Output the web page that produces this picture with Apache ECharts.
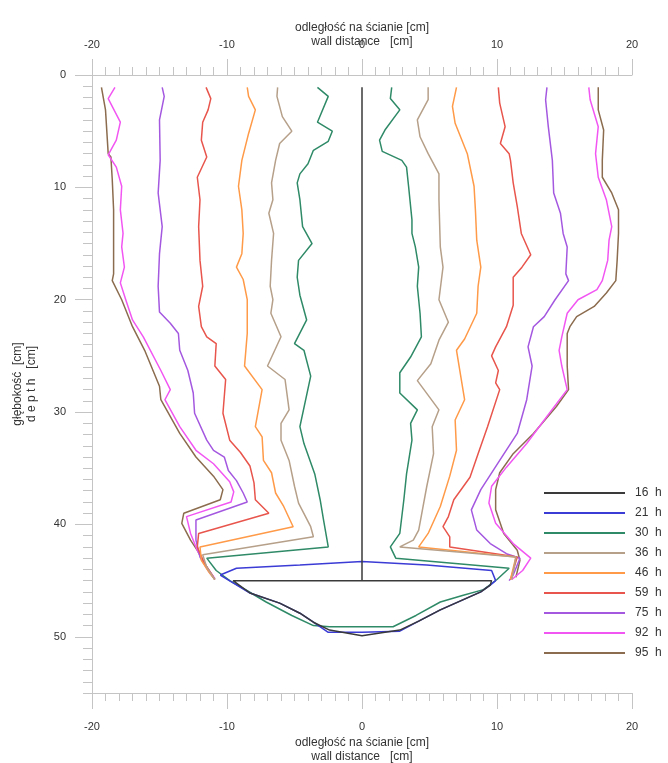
<!DOCTYPE html>
<html>
<head>
<meta charset="utf-8">
<script src="https://cdn.jsdelivr.net/npm/echarts@6/dist/echarts.min.js"></script>
<style>
html, body { margin: 0; padding: 0; background: #ffffff; }
#chart { width: 668px; height: 763px; }
</style>
</head>
<body>
<div id="chart"></div>
<script>
const FONT = '"Liberation Sans", Arial, sans-serif';

// legend names and colours (hours)
const timeLabels = ['16  h', '21  h', '30  h', '36  h', '46  h', '59  h', '75  h', '92  h', '95  h'];
const timeColors = ['#3a3a3a', '#3b3bd6', '#2f8a68', '#b6a08a', '#ff9a48', '#e8554c', '#a458e0', '#f256f2', '#8c6c4e'];

// tick values
const xTicks = [-20, -10, 0, 10, 20];
const yTicks = [0, 10, 20, 30, 40, 50];

// profiles: [wall distance cm, depth cm]
const profile16 = [[0, 1.1], [0, 45], [-9.55, 45], [-8.3, 46.1], [-6.1, 47.0], [-4.6, 47.9], [-3.6, 48.7], [-2.4, 49.4], [0, 49.9],
    [2.8, 49.4], [4.2, 48.6], [5.8, 47.6], [7.3, 46.8], [8.8, 46.0], [9.5, 45.4], [9.6, 45.0], [0, 45]];

const profile21 = [[-10.5, 44.5], [-9.3, 43.9], [-4.6, 43.6], [0, 43.3], [4.8, 43.6], [9.6, 44.1], [9.9, 45.0], [9.5, 45.4],
    [8.8, 46.0], [7.3, 46.8], [5.8, 47.6], [4.2, 48.6], [2.8, 49.5], [0, 49.6], [-2.5, 49.6], [-3.6, 48.7], [-4.6, 47.9],
    [-6.1, 47.0], [-8.3, 46.1], [-9.55, 45.2], [-10.5, 44.5]];

const left30 = [[-3.3, 1.1], [-2.5, 1.9], [-3.3, 4.2], [-2.2, 5.0], [-2.5, 5.9], [-3.6, 6.7], [-4.0, 7.9], [-4.6, 8.8], [-4.8, 9.6],
    [-4.6, 11.1], [-4.4, 13.5], [-3.7, 15.0], [-4.7, 16.5], [-4.8, 18.0], [-4.6, 19.6], [-4.1, 21.8], [-5.0, 23.9], [-4.3, 24.5],
    [-3.8, 26.8], [-4.6, 31.3], [-4.3, 32.8], [-3.5, 35.5], [-3.1, 37.8], [-2.85, 39.6], [-2.5, 42.0], [-11.5, 43.0], [-10.8, 44.1]];
const bowl30 = [[-9.8, 45.0], [-8.5, 45.9], [-7.1, 46.9], [-5.2, 48.1], [-3.6, 49.0], [-2.4, 49.1], [2.3, 49.1], [4.0, 48.1],
    [5.8, 46.9], [7.5, 46.3], [9.0, 45.8], [10.0, 44.9]];
const right30 = [[2.2, 1.1], [2.1, 2.1], [2.8, 3.1], [1.7, 4.9], [1.3, 5.8], [1.5, 6.8], [2.95, 7.6], [3.3, 8.2], [3.45, 9.9],
    [3.7, 12.9], [3.7, 14.1], [3.95, 15.3], [4.2, 17.1], [4.1, 18.8], [4.3, 21.2], [4.4, 23.3], [3.6, 25.1], [2.8, 26.5],
    [2.8, 28.3], [4.1, 29.8], [3.6, 31.0], [3.7, 32.5], [3.3, 35.5], [3.1, 37.8], [2.8, 40.8], [2.1, 42.0], [2.5, 43.0], [10.9, 43.9]];

const left36 = [[-6.25, 1.1], [-6.3, 1.9], [-5.9, 3.7], [-5.2, 5.0], [-6.1, 6.1], [-6.4, 7.6], [-6.7, 9.6], [-6.6, 11.1], [-6.9, 12.3],
    [-6.55, 14.1], [-6.7, 16.5], [-6.8, 18.8], [-6.6, 20.0], [-6.75, 21.2], [-6.0, 23.3], [-7.0, 25.9], [-5.7, 27.1], [-5.4, 29.8],
    [-6.0, 31.0], [-6.0, 32.5], [-5.4, 34.3], [-5.0, 36.6], [-4.7, 38.1], [-3.8, 40.2], [-3.6, 41.1], [-11.8, 42.7], [-11.5, 43.8], [-10.9, 44.9]];
const right36 = [[4.9, 1.1], [4.9, 2.2], [4.1, 4.0], [4.3, 5.5], [4.9, 7.0], [5.7, 8.8], [5.7, 11.1], [5.8, 15.3], [6.0, 17.1],
    [5.7, 20.0], [6.4, 22.0], [5.7, 23.6], [5.1, 25.7], [4.1, 27.2], [5.7, 29.8], [5.2, 31.3], [5.3, 33.7], [4.8, 36.6],
    [4.2, 40.5], [3.8, 41.4], [2.8, 42.0], [11.4, 42.9], [11.1, 44.9]];

const left46 = [[-8.5, 1.1], [-8.4, 1.9], [-7.9, 3.1], [-8.4, 5.2], [-8.9, 7.6], [-9.15, 9.9], [-8.9, 12.0], [-8.8, 14.1], [-8.9, 15.9],
    [-9.3, 17.1], [-8.8, 18.2], [-8.5, 20.0], [-8.5, 23.0], [-8.7, 25.9], [-7.4, 28.0], [-7.9, 31.3], [-7.4, 32.2], [-7.3, 34.3],
    [-6.7, 35.4], [-6.4, 37.2], [-5.8, 38.4], [-5.1, 40.2], [-12.0, 42.0], [-11.9, 43.2], [-11.3, 44.3], [-10.9, 44.9]];
const right46 = [[7.0, 1.1], [6.7, 2.8], [6.9, 4.3], [7.8, 7.0], [8.3, 9.9], [8.4, 12.0], [8.5, 14.7], [8.8, 17.1], [8.6, 18.8],
    [8.5, 21.2], [7.6, 23.5], [7.0, 24.5], [7.6, 28.9], [6.9, 30.7], [7.0, 33.4], [6.5, 35.7], [5.8, 38.4], [4.9, 40.8],
    [4.2, 42.0], [11.4, 42.9], [11.0, 44.9]];

const left59 = [[-11.55, 1.1], [-11.2, 2.1], [-11.4, 3.1], [-11.8, 4.2], [-11.9, 5.8], [-11.5, 7.3], [-12.2, 9.1], [-12.0, 11.1],
    [-12.1, 13.5], [-12.0, 16.5], [-11.8, 18.8], [-12.1, 20.6], [-11.9, 22.4], [-11.5, 23.3], [-10.8, 23.9], [-10.9, 25.9],
    [-10.1, 27.1], [-10.3, 30.1], [-9.8, 32.5], [-9.0, 33.6], [-8.3, 34.8], [-8.0, 36.3], [-7.9, 37.8], [-6.9, 39.0],
    [-12.1, 40.8], [-12.2, 42.0], [-11.7, 43.4], [-11.0, 44.7]];
const right59 = [[10.1, 1.1], [10.2, 2.5], [10.6, 4.6], [10.25, 6.1], [10.9, 7.0], [11.0, 7.6], [11.2, 9.6], [11.5, 11.7],
    [11.8, 14.1], [12.5, 16.0], [11.85, 17.1], [11.2, 18.0], [11.2, 19.4], [11.2, 20.5], [10.7, 22.4], [9.9, 24.2], [9.6, 25.0],
    [10.1, 26.3], [9.9, 27.4], [10.2, 28.0], [9.3, 31.3], [8.6, 33.7], [8.0, 35.8], [6.8, 37.8], [6.4, 39.3], [6.0, 40.2],
    [6.5, 41.1], [6.5, 42.0], [11.5, 42.9], [11.0, 44.9]];

const left75 = [[-14.8, 1.1], [-14.65, 1.9], [-15.0, 4.0], [-14.95, 7.6], [-15.1, 10.5], [-14.8, 13.5], [-15.0, 15.9], [-15.1, 18.8],
    [-15.0, 21.1], [-14.2, 22.1], [-13.6, 23.0], [-13.5, 24.5], [-12.9, 26.3], [-12.5, 28.3], [-12.4, 30.1], [-11.5, 32.5],
    [-11.0, 33.4], [-10.2, 34.0], [-9.9, 35.2], [-9.3, 36.1], [-8.8, 37.2], [-8.5, 38.0], [-12.3, 39.6], [-12.3, 41.4],
    [-12.0, 42.9], [-11.4, 44.1], [-10.9, 44.9]];
const right75 = [[13.7, 1.1], [13.6, 2.2], [13.8, 4.6], [14.1, 7.6], [14.2, 10.5], [14.7, 12.3], [14.9, 14.1], [15.2, 15.3],
    [15.1, 17.7], [15.3, 18.3], [14.3, 20.0], [13.5, 21.5], [12.7, 22.4], [12.3, 24.2], [12.6, 25.9], [12.2, 28.9], [11.5, 31.9],
    [10.2, 34.3], [8.8, 36.9], [8.1, 38.7], [8.5, 40.5], [9.5, 41.7], [10.7, 42.6], [11.7, 43.0], [11.2, 44.5], [10.9, 45.0]];

const left92 = [[-18.3, 1.1], [-18.8, 2.1], [-17.9, 4.2], [-18.2, 5.8], [-18.8, 7.1], [-18.2, 8.2], [-17.8, 9.9], [-17.9, 12.0],
    [-17.7, 14.1], [-17.8, 15.3], [-17.6, 17.1], [-17.9, 18.5], [-17.5, 20.0], [-17.0, 21.8], [-16.2, 23.3], [-14.9, 26.3],
    [-14.2, 28.0], [-14.6, 28.9], [-13.5, 31.3], [-12.3, 33.4], [-11.0, 34.6], [-9.8, 36.2], [-9.5, 37.1], [-9.7, 38.0],
    [-13.0, 39.3], [-12.7, 40.8], [-12.2, 42.3], [-11.5, 43.8], [-10.9, 44.8]];
const right92 = [[16.8, 1.1], [16.9, 2.2], [17.5, 4.6], [17.3, 7.0], [17.5, 9.1], [18.1, 11.1], [18.5, 13.5], [18.3, 14.7],
    [18.2, 16.5], [17.8, 18.3], [17.4, 19.1], [16.0, 20.0], [15.2, 21.2], [14.8, 23.3], [14.6, 24.5], [14.8, 25.9], [15.2, 28.0],
    [13.5, 30.7], [12.2, 32.8], [10.7, 34.9], [9.6, 36.6], [9.4, 38.1], [9.9, 39.9], [11.2, 41.7], [12.5, 43.0], [11.9, 44.1], [11.1, 44.9]];

const left95 = [[-19.3, 1.1], [-19.0, 3.1], [-18.8, 7.0], [-18.6, 7.3], [-18.5, 9.3], [-18.4, 12.0], [-18.4, 15.0], [-18.4, 17.7],
    [-18.5, 18.3], [-17.8, 20.0], [-17.0, 22.4], [-16.1, 24.5], [-15.0, 27.7], [-14.9, 28.9], [-13.5, 31.9], [-12.3, 34.0],
    [-11.0, 35.7], [-10.3, 36.9], [-10.5, 37.8], [-13.2, 39.0], [-13.35, 39.9], [-12.7, 41.4], [-12.2, 42.3], [-11.7, 43.4], [-10.9, 44.9]];
const right95 = [[17.5, 1.1], [17.5, 3.1], [17.9, 4.9], [17.8, 7.6], [17.8, 9.1], [18.5, 10.5], [19.0, 12.0], [19.0, 14.1],
    [18.9, 16.5], [18.8, 18.3], [18.1, 19.4], [17.2, 20.6], [15.9, 21.5], [15.4, 22.4], [15.2, 23.0], [15.2, 25.9], [15.3, 28.0],
    [14.4, 29.5], [12.7, 31.9], [11.2, 33.7], [10.2, 35.4], [9.9, 36.9], [9.9, 38.7], [10.5, 40.8], [11.5, 42.3], [11.7, 43.2], [11.4, 44.7]];

// one line series
function profileSeries(idx, data) {
    const color = timeColors[idx];
    return {
        type: 'line',
        name: timeLabels[idx],
        data: data,
        symbol: 'none',
        silent: true,
        animation: false,
        lineStyle: { color: color, width: 1.5 },
        itemStyle: { color: color }
    };
}

// drawn from the latest profile to the earliest, so early ones sit on top
const series = [
    profileSeries(8, left95), profileSeries(8, right95),
    profileSeries(7, left92), profileSeries(7, right92),
    profileSeries(6, left75), profileSeries(6, right75),
    profileSeries(5, left59), profileSeries(5, right59),
    profileSeries(4, left46), profileSeries(4, right46),
    profileSeries(3, left36), profileSeries(3, right36),
    profileSeries(2, left30.concat(bowl30, right30.slice().reverse())),
    profileSeries(1, profile21),
    profileSeries(0, profile16)
];

const axisGray = '#c4c4c4';
const labelStyle = { color: '#333', fontSize: 11, fontFamily: FONT };
const nameStyle = { color: '#333', fontSize: 12, fontFamily: FONT, lineHeight: 14 };

function xAxisDef(position, nameGap, labelMargin) {
    return {
        type: 'value',
        position: position,
        min: xTicks[0],
        max: xTicks[xTicks.length - 1],
        interval: 10,
        name: 'odległość na ścianie [cm]\nwall distance   [cm]',
        nameLocation: 'middle',
        nameGap: nameGap,
        nameMoveOverlap: false,
        nameTextStyle: nameStyle,
        axisLine: { show: true, onZero: false, lineStyle: { color: axisGray, width: 1 } },
        axisTick: { show: true, inside: false, length: 16, lineStyle: { color: axisGray } },
        minorTick: { show: true, splitNumber: 10, length: 8, lineStyle: { color: axisGray } },
        splitLine: { show: false },
        minorSplitLine: { show: false },
        axisLabel: Object.assign({ margin: labelMargin, hideOverlap: false }, labelStyle)
    };
}

const option = {
    backgroundColor: '#ffffff',
    animation: false,
    grid: { left: 92, right: 36, top: 75, bottom: 70, containLabel: false, outerBoundsMode: 'none' },
    legend: {
        data: timeLabels,
        orient: 'vertical',
        left: 544,
        top: 486,
        padding: 0,
        itemWidth: 81,
        itemHeight: 2,
        itemGap: 6,
        icon: 'rect',
        selectedMode: false,
        textStyle: { color: '#333', fontSize: 12, fontFamily: FONT, lineHeight: 14, padding: [0, 0, 0, 5] }
    },
    xAxis: [
        xAxisDef('bottom', 43, 28),
        xAxisDef('top', 26, 25)
    ],
    yAxis: [
        {
            type: 'value',
            position: 'left',
            inverse: true,
            min: 0,
            max: 55,
            interval: 1,
            name: 'głębokość  [cm]\nd e p t h   [cm]',
            nameLocation: 'middle',
            nameGap: 53,
            nameMoveOverlap: false,
            nameTextStyle: nameStyle,
            axisLine: { show: true, onZero: false, lineStyle: { color: axisGray, width: 1 } },
            axisTick: { show: true, inside: false, length: 9, lineStyle: { color: axisGray } },
            splitLine: { show: false },
            axisLabel: Object.assign({
                margin: 26,
                hideOverlap: false,
                formatter: (v) => yTicks.indexOf(v) >= 0 ? String(v) : ''
            }, labelStyle)
        },
        {
            // long ticks at every 10 cm
            type: 'value',
            position: 'left',
            inverse: true,
            min: 0,
            max: 55,
            interval: 10,
            axisLine: { show: false, onZero: false },
            axisTick: { show: true, inside: false, length: 17, customValues: yTicks, lineStyle: { color: axisGray } },
            axisLabel: { show: false },
            splitLine: { show: false }
        }
    ],
    series: series
};

const chart = echarts.init(document.getElementById('chart'), null, { renderer: 'canvas' });
chart.setOption(option);
</script>
</body>
</html>
